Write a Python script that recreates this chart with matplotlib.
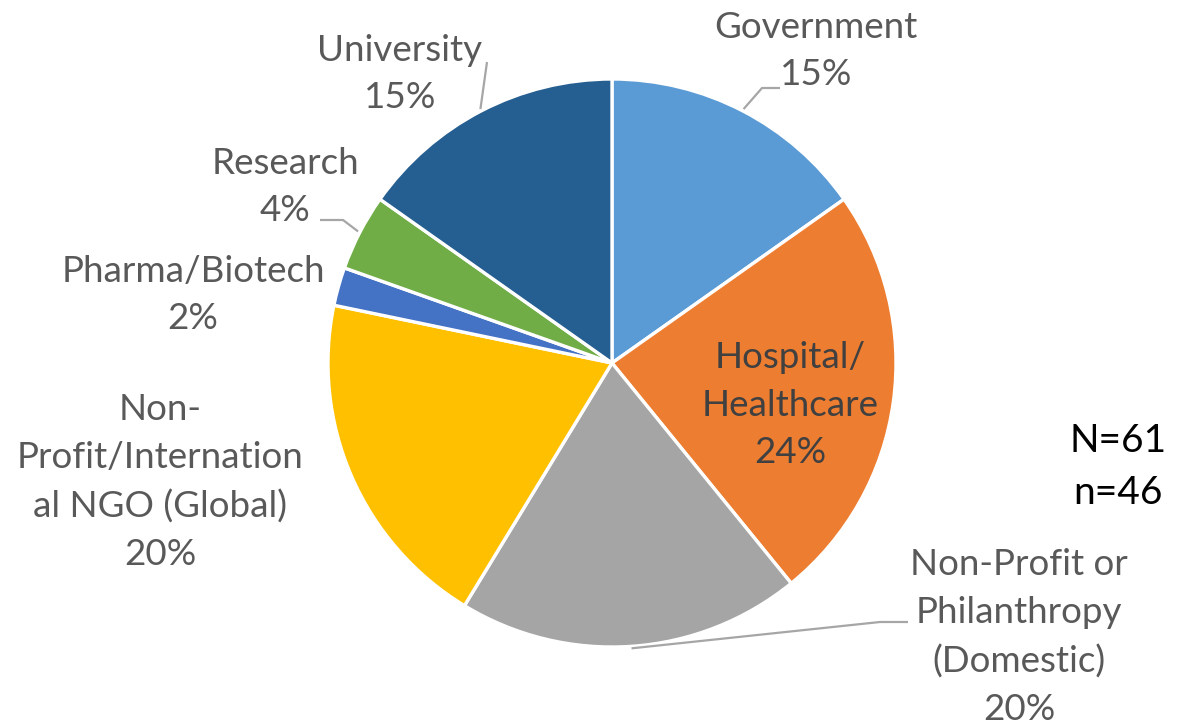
import numpy as np
import matplotlib.pyplot as plt

# Data
categories = ['Government', 'Hospital/\nHealthcare', 'Non-Profit or\nPhilanthropy\n(Domestic)',
              'Non-\nProfit/Internation\nal NGO (Global)', 'Pharma/Biotech', 'Research', 'University']
counts = [7, 11, 9, 9, 1, 2, 7]
colors = ['#5B9BD5', '#ED7D31', '#A5A5A5', '#FFC000', '#4472C4', '#70AD47', '#255E91']
n_total = 61
n_resp = 46

W, H = 1178, 724
fig = plt.figure(figsize=(W / 100, H / 100), dpi=100)
ax = fig.add_axes([0, 0, 1, 1])

def Y(py):
    return H - py

cx, cy, R = 612, Y(363), 284
wedges, _ = ax.pie(counts, colors=colors, startangle=90, counterclock=False,
                   center=(cx, cy), radius=R, frame=True,
                   wedgeprops=dict(edgecolor='white', linewidth=2.4))
ax.set_xlim(0, W)
ax.set_ylim(0, H)
ax.axis('off')

pct = [f'{round(c / n_resp * 100)}%' for c in counts]
fam = ['Lato', 'DejaVu Sans']
fs = 26.5
grey = '#595959'

# label block centres (pixels, from top)
label_pos = [(816, 51), (790, 405), (1019, 637), (160, 482), (193, 295), (285, 187), (400, 74)]
for i, (x, y) in enumerate(label_pos):
    col = '#404040' if i == 1 else grey
    ax.text(x, Y(y), categories[i] + '\n' + pct[i], ha='center', va='center',
            fontsize=fs, color=col, family=fam, linespacing=1.54,
            multialignment='center')

# leader lines from wedge middles
def mid_point(w, r):
    a = np.radians((w.theta1 + w.theta2) / 2)
    return cx + r * np.cos(a), cy + r * np.sin(a)

leaders = {0: [(762, 88), (780, 88)],
           2: [(880, 622), (908, 622)],
           5: [(343, 220), (320, 220)],
           6: [(487, 62)]}
for i, pts in leaders.items():
    x0, y0 = mid_point(wedges[i], R + 2)
    xs = [x0] + [p[0] for p in pts]
    ys = [y0] + [Y(p[1]) for p in pts]
    ax.plot(xs, ys, color='#A6A6A6', lw=1.6, solid_capstyle='butt')

ax.text(1118, Y(467), f'N={n_total}\nn={n_resp}', ha='center', va='center',
        fontsize=28, color='black', family=fam, linespacing=1.54)

fig.savefig('out.png', dpi=100)
